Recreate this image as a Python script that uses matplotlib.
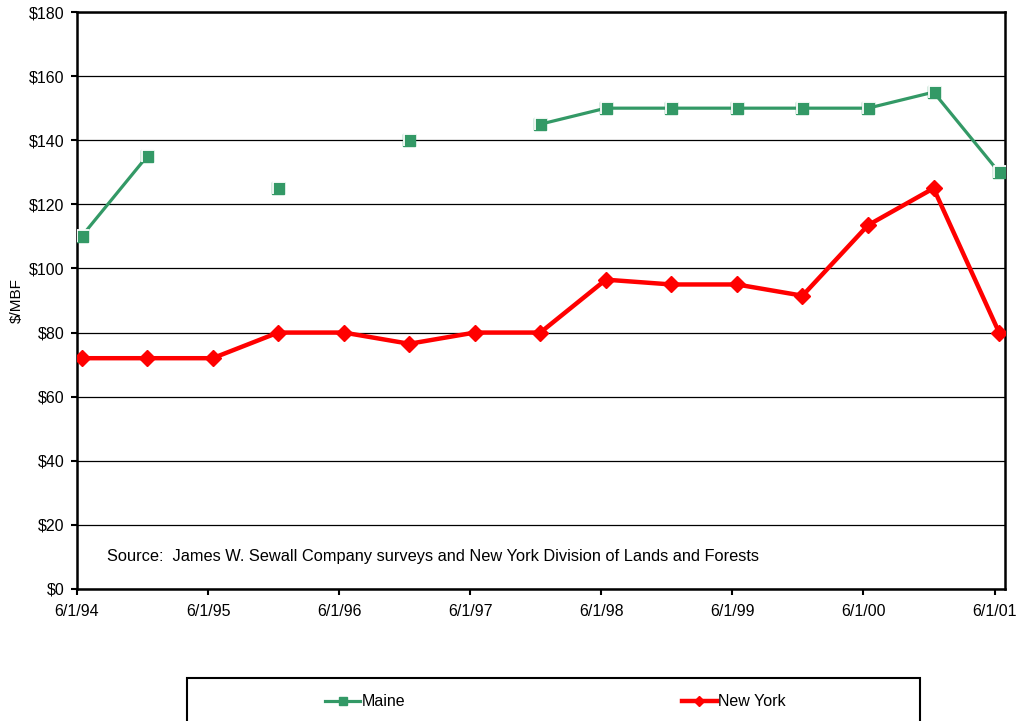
import numpy as np
import matplotlib
matplotlib.use("Agg")
import matplotlib.pyplot as plt
from matplotlib.path import Path
from matplotlib.patches import Rectangle

plt.rcParams['font.family'] = ['Liberation Sans', 'DejaVu Sans']

# half-year survey periods, 6/1/94 .. 6/1/01
n_periods = 15
tick_labels = ["6/1/94", "6/1/95", "6/1/96", "6/1/97", "6/1/98", "6/1/99", "6/1/00", "6/1/01"]

# $/MBF stumpage prices (nan = no survey)
maine = [110, 135, np.nan, 125, np.nan, 140, np.nan, 145,
         150, 150, 150, 150, 150, 155, 130]
new_york = [72, 72, 72, 80, 80, 76.5, 80, 80,
            96.5, 95, 95, 91.5, 113.5, 125, 80]

green = "#339966"
red = "#ff0000"

fig = plt.figure(figsize=(10.24, 7.21), dpi=100)
ax = fig.add_axes([77 / 1024, 1 - 589 / 721, 928 / 1024, 577 / 721])

x = np.arange(n_periods) + 0.07

# white corner mark drawn on top of the green squares
corner = Path([(-0.28, -0.32), (-0.28, 0.3), (0.36, 0.3)],
              [Path.MOVETO, Path.LINETO, Path.LINETO])

ax.plot(x, maine, color=green, lw=2.3, marker="s", ms=8.3,
        mfc=green, mec=green, mew=1, label="Maine", zorder=3)
ax.plot(x, maine, ls="none", marker=corner, ms=10, mfc="none",
        mec="white", mew=1.3, zorder=4)
ax.plot(x, new_york, color=red, lw=3.2, marker="D", ms=8,
        mfc=red, mec=red, mew=1, label="New York", zorder=3)

ax.set_xlim(0, 14.16)
ax.set_ylim(0, 180)
ax.set_xticks(np.arange(0, n_periods, 2))
ax.set_xticklabels(tick_labels)
ax.set_yticks(np.arange(0, 181, 20))
ax.set_yticklabels(["${}".format(v) for v in range(0, 181, 20)])
ax.tick_params(labelsize=11.5, width=1.5, length=4, pad=5, colors="black")
ax.tick_params(axis="x", pad=7)

ax.yaxis.grid(True, color="black", lw=0.9)
ax.set_axisbelow(True)
for s in ax.spines.values():
    s.set_linewidth(1.8)

ax.set_ylabel("$/MBF", fontsize=11)
ax.yaxis.set_label_coords(-0.057, 0.5)

ax.text(30 / 928, 32 / 577,
        "Source:  James W. Sewall Company surveys and New York Division of Lands and Forests",
        transform=ax.transAxes, fontsize=11.8, va="center", ha="left")

# legend box, running off the bottom of the figure
fig.add_artist(Rectangle((187 / 1024, -0.05), (920 - 187) / 1024, 43 / 721 + 0.05,
                         transform=fig.transFigure, fill=False, ec="black", lw=1.5))
handles, labels = ax.get_legend_handles_labels()
fig.legend(handles, labels, loc="center left", bbox_to_anchor=(325 / 1024, 1 - 702 / 721),
           ncol=2, frameon=False, fontsize=11.5, handlelength=2.2, handletextpad=0.1,
           columnspacing=17.3, borderpad=0, borderaxespad=0, markerscale=0.7)

fig.savefig("out.png", dpi=100)
